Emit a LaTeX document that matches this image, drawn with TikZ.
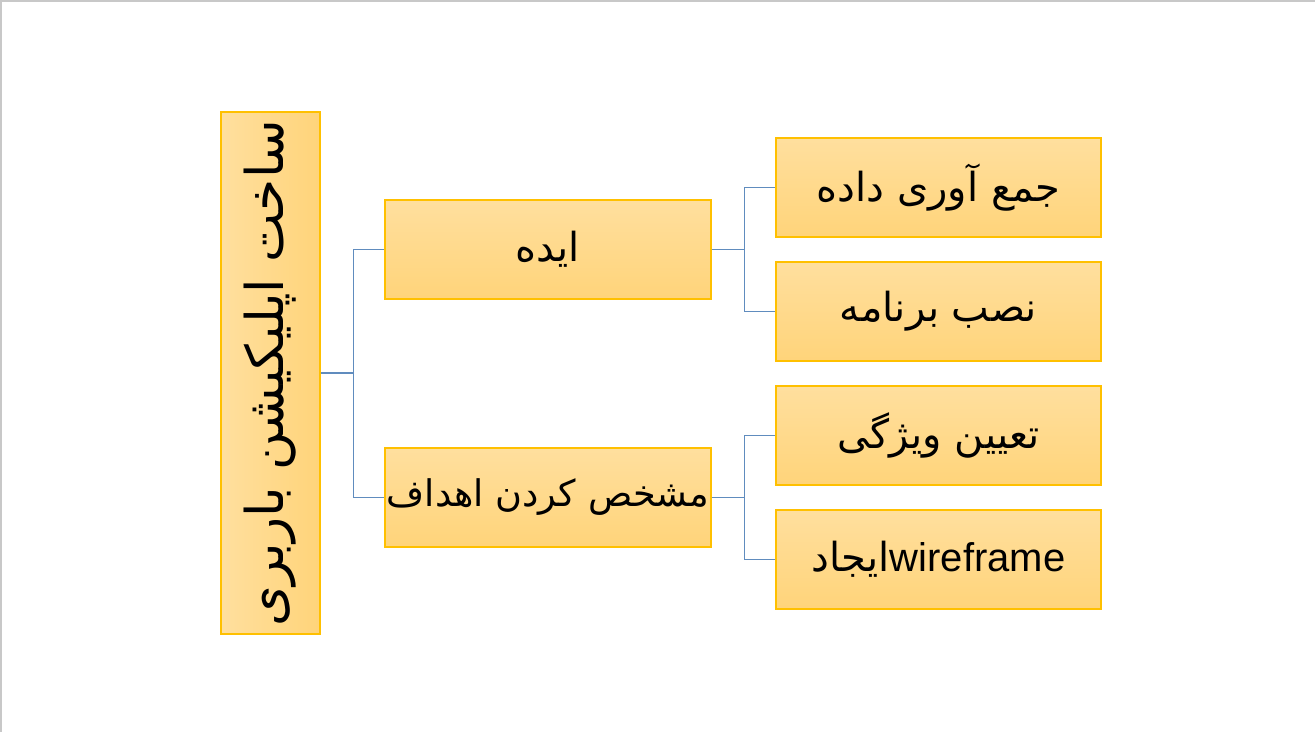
\documentclass[tikz,border=0pt]{standalone}
\usepackage{fontspec}
\setmainfont{Liberation Sans}
\newfontfamily\arabicfont[Script=Arabic]{DejaVu Sans}
\TeXXeTstate=1
\definecolor{boxtop}{RGB}{255,223,158}
\definecolor{boxbot}{RGB}{255,212,122}
\definecolor{boxline}{RGB}{255,192,0}
\definecolor{connline}{RGB}{96,140,190}
\definecolor{frameline}{RGB}{200,200,200}
\begin{document}
\begin{tikzpicture}[x=0.75pt,y=-0.75pt,
  box/.style={draw=boxline, line width=0.9pt, top color=boxtop, bottom color=boxbot,
    minimum width=244.5pt, minimum height=74.25pt, inner sep=0pt, font=\fontsize{30}{36}\selectfont},
  leaf/.style={box, minimum width=243.75pt},
  rootbox/.style={draw=boxline, line width=0.9pt, left color=boxtop, right color=boxbot,
    minimum width=74.25pt, minimum height=391.5pt, inner sep=0pt},
  conn/.style={draw=connline, line width=0.8pt}
]
\useasboundingbox (0,0) rectangle (1315,732);
\draw[frameline, line width=1.2pt] (0.8,732) -- (0.8,0.8) -- (1315,0.8);

\node[rootbox] (root) at (270.5,373) {};
\node[rotate=90, font=\fontsize{39}{46}\selectfont] (roottext) at (root.center) {\arabicfont\beginR ساخت اپلیکیشن باربری\endR};

\node[box] (idea) at (548,249.5) {\arabicfont\beginR ایده\endR};
\node[box, font=\fontsize{27.5}{33}\selectfont] (goal) at (548,497.5) {\arabicfont\beginR مشخص کردن اهداف\endR};

\node[leaf] (c1) at (938.5,187.5) {\arabicfont\beginR جمع آوری داده\endR};
\node[leaf] (c2) at (938.5,311.5) {\arabicfont\beginR نصب برنامه\endR};
\node[leaf] (c3) at (938.5,435.5) {\arabicfont\beginR تعیین ویژگی\endR};
\node[leaf] (c4) at (938.5,559.5) {{\arabicfont\beginR ایجاد\endR}wireframe};

\draw[conn] (root.east) -- ++(33,0) coordinate (j1);
\draw[conn] (j1) |- (idea.west);
\draw[conn] (j1) |- (goal.west);
\draw[conn] (idea.east) -- ++(33,0) coordinate (j2);
\draw[conn] (j2) |- (c1.west);
\draw[conn] (j2) |- (c2.west);
\draw[conn] (goal.east) -- ++(33,0) coordinate (j3);
\draw[conn] (j3) |- (c3.west);
\draw[conn] (j3) |- (c4.west);
\end{tikzpicture}
\end{document}
